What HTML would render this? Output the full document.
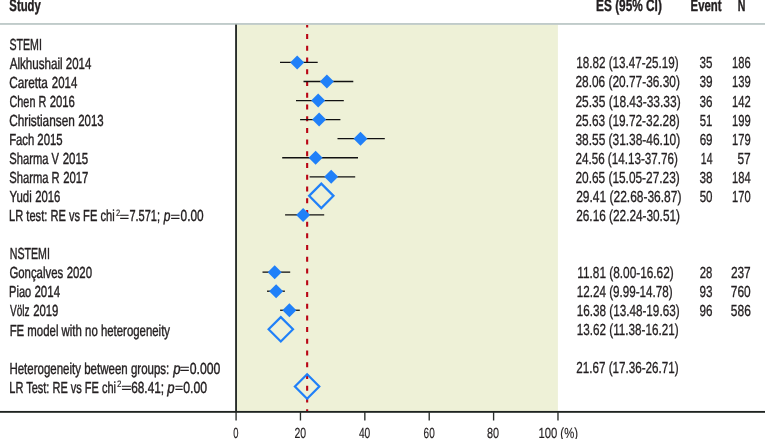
<!DOCTYPE html>
<html><head><meta charset="utf-8"><title>Forest plot</title>
<style>
html,body{margin:0;padding:0;background:#fff}
svg{display:block}
text{font-family:"Liberation Sans",sans-serif;font-size:16px;fill:#231f20;stroke:#231f20;stroke-width:0.42px;text-rendering:geometricPrecision}
.b{font-weight:bold;font-size:16.6px;stroke-width:0.4px}.i{font-style:italic}.s{font-size:9.4px;stroke-width:0.15px}.e{font-size:12.5px;stroke-width:0.28px}.t{font-size:14.6px;stroke-width:0.18px}.n{font-size:16px;stroke-width:0.32px}

</style></head>
<body>
<svg width="765" height="439" viewBox="0 0 765 439">
<rect x="237" y="24" width="320.9" height="387.5" fill="#eef1d7"/>
<rect x="0" y="23.0" width="765" height="1.9" fill="#c0cbca"/>
<line x1="307.15" y1="24.9" x2="307.15" y2="411" stroke="#b90514" stroke-width="2.1" stroke-dasharray="5 6.72" stroke-dashoffset="2.5"/>
<line x1="280.0" y1="62.42" x2="317.7" y2="62.42" stroke="#111" stroke-width="1.3"/>
<path d="M290.2 62.42L297.2 55.42L304.2 62.42L297.2 69.42Z" fill="#2080f8"/>
<line x1="303.5" y1="81.48" x2="353.3" y2="81.48" stroke="#111" stroke-width="1.3"/>
<path d="M319.9 81.48L326.9 74.48L333.9 81.48L326.9 88.48Z" fill="#2080f8"/>
<line x1="296.0" y1="100.55" x2="343.8" y2="100.55" stroke="#111" stroke-width="1.3"/>
<path d="M311.2 100.55L318.2 93.55L325.2 100.55L318.2 107.55Z" fill="#2080f8"/>
<line x1="300.1" y1="119.61" x2="340.4" y2="119.61" stroke="#111" stroke-width="1.3"/>
<path d="M312.1 119.61L319.1 112.61L326.1 119.61L319.1 126.61Z" fill="#2080f8"/>
<line x1="337.5" y1="138.68" x2="384.8" y2="138.68" stroke="#111" stroke-width="1.3"/>
<path d="M353.5 138.68L360.5 131.68L367.5 138.68L360.5 145.68Z" fill="#2080f8"/>
<line x1="282.2" y1="157.74" x2="358.0" y2="157.74" stroke="#111" stroke-width="1.3"/>
<path d="M308.6 157.74L315.6 150.74L322.6 157.74L315.6 164.74Z" fill="#2080f8"/>
<line x1="309.6" y1="176.81" x2="355.2" y2="176.81" stroke="#111" stroke-width="1.3"/>
<path d="M324.2 176.81L331.2 169.81L338.2 176.81L331.2 183.81Z" fill="#2080f8"/>
<line x1="285.1" y1="214.94" x2="324.2" y2="214.94" stroke="#111" stroke-width="1.3"/>
<path d="M296.1 214.94L303.1 207.94L310.1 214.94L303.1 221.94Z" fill="#2080f8"/>
<line x1="262.5" y1="272.13" x2="290.2" y2="272.13" stroke="#111" stroke-width="1.3"/>
<path d="M267.7 272.13L274.7 265.13L281.7 272.13L274.7 279.13Z" fill="#2080f8"/>
<line x1="267.0" y1="291.20" x2="284.9" y2="291.20" stroke="#111" stroke-width="1.3"/>
<path d="M269.1 291.20L276.1 284.20L283.1 291.20L276.1 298.20Z" fill="#2080f8"/>
<line x1="280.1" y1="310.26" x2="299.8" y2="310.26" stroke="#111" stroke-width="1.3"/>
<path d="M282.4 310.26L289.4 303.26L296.4 310.26L289.4 317.26Z" fill="#2080f8"/>
<path d="M309.1 195.87L321.3 183.67L333.5 195.87L321.3 208.07Z" fill="none" stroke="#2080f8" stroke-width="2.2"/>
<path d="M268.6 329.33L280.8 317.13L293.0 329.33L280.8 341.53Z" fill="none" stroke="#2080f8" stroke-width="2.2"/>
<path d="M294.9 386.52L307.1 374.32L319.3 386.52L307.1 398.72Z" fill="none" stroke="#2080f8" stroke-width="2.2"/>
<rect x="235.15" y="24.6" width="1.8" height="388" fill="#1e2320"/>
<rect x="0" y="410.95" width="765" height="1.85" fill="#1e2320"/>
<rect x="235.40" y="412" width="1.35" height="8.5" fill="#2a2e2c"/>
<rect x="299.78" y="412" width="1.35" height="8.5" fill="#2a2e2c"/>
<rect x="364.16" y="412" width="1.35" height="8.5" fill="#2a2e2c"/>
<rect x="428.54" y="412" width="1.35" height="8.5" fill="#2a2e2c"/>
<rect x="492.92" y="412" width="1.35" height="8.5" fill="#2a2e2c"/>
<rect x="557.30" y="412" width="1.35" height="8.5" fill="#2a2e2c"/>
<text class="b" x="9.35" y="11.10" textLength="31.46" lengthAdjust="spacingAndGlyphs">Study</text>
<text class="b" x="596.11" y="11.10" textLength="65.71" lengthAdjust="spacingAndGlyphs">ES (95% CI)</text>
<text class="b" x="690.55" y="11.10" textLength="30.94" lengthAdjust="spacingAndGlyphs">Event</text>
<text class="b" x="737.73" y="11.10" textLength="7.64" lengthAdjust="spacingAndGlyphs">N</text>
<text x="9.44" y="49.65" textLength="32.45" lengthAdjust="spacingAndGlyphs">STEMI</text>
<text x="9.64" y="68.71" textLength="53.07" lengthAdjust="spacingAndGlyphs">Alkhushail </text>
<text x="65.87" y="68.71" textLength="25.41" lengthAdjust="spacingAndGlyphs">2014</text>
<text x="9.13" y="87.77" textLength="38.73" lengthAdjust="spacingAndGlyphs">Caretta </text>
<text x="51.87" y="87.77" textLength="25.41" lengthAdjust="spacingAndGlyphs">2014</text>
<text x="9.54" y="106.83" textLength="36.68" lengthAdjust="spacingAndGlyphs">Chen R </text>
<text x="49.71" y="106.83" textLength="25.15" lengthAdjust="spacingAndGlyphs">2016</text>
<text x="9.14" y="125.89" textLength="65.68" lengthAdjust="spacingAndGlyphs">Christiansen </text>
<text x="78.22" y="125.89" textLength="25.40" lengthAdjust="spacingAndGlyphs">2013</text>
<text x="9.13" y="144.95" textLength="25.14" lengthAdjust="spacingAndGlyphs">Fach </text>
<text x="37.33" y="144.95" textLength="25.24" lengthAdjust="spacingAndGlyphs">2015</text>
<text x="9.31" y="164.01" textLength="49.64" lengthAdjust="spacingAndGlyphs">Sharma V </text>
<text x="62.66" y="164.01" textLength="25.51" lengthAdjust="spacingAndGlyphs">2015</text>
<text x="9.30" y="183.07" textLength="50.36" lengthAdjust="spacingAndGlyphs">Sharma R </text>
<text x="63.15" y="183.07" textLength="25.23" lengthAdjust="spacingAndGlyphs">2017</text>
<text x="9.49" y="202.13" textLength="22.21" lengthAdjust="spacingAndGlyphs">Yudi </text>
<text x="35.15" y="202.13" textLength="25.13" lengthAdjust="spacingAndGlyphs">2016</text>
<text x="9.72" y="259.31" textLength="40.15" lengthAdjust="spacingAndGlyphs">NSTEMI</text>
<text x="9.40" y="278.37" textLength="53.81" lengthAdjust="spacingAndGlyphs">Gonçalves </text>
<text x="66.67" y="278.37" textLength="25.40" lengthAdjust="spacingAndGlyphs">2020</text>
<text x="9.12" y="297.43" textLength="22.04" lengthAdjust="spacingAndGlyphs">Piao </text>
<text x="34.48" y="297.43" textLength="25.56" lengthAdjust="spacingAndGlyphs">2014</text>
<text x="9.97" y="316.49" textLength="19.62" lengthAdjust="spacingAndGlyphs">Völz </text>
<text x="33.15" y="316.49" textLength="25.28" lengthAdjust="spacingAndGlyphs">2019</text>
<text x="9.64" y="335.55" textLength="160.37" lengthAdjust="spacingAndGlyphs">FE model with no heterogeneity</text>
<text x="9.00" y="221.19" textLength="105.63" lengthAdjust="spacingAndGlyphs">LR test: RE vs FE chi</text>
<text class="s" x="115.91" y="215.59" textLength="4.18" lengthAdjust="spacingAndGlyphs">2</text>
<text class="e" x="119.52" y="220.94" textLength="9.58" lengthAdjust="spacingAndGlyphs">=</text>
<text x="129.39" y="221.19" textLength="30.60" lengthAdjust="spacingAndGlyphs">7.571; </text>
<text class="i" x="163.80" y="221.19" textLength="6.70" lengthAdjust="spacingAndGlyphs">p</text>
<text class="e" x="170.55" y="220.94" textLength="9.54" lengthAdjust="spacingAndGlyphs">=</text>
<text x="180.61" y="221.19" textLength="23.03" lengthAdjust="spacingAndGlyphs">0.00</text>
<text x="9.40" y="373.67" textLength="159.89" lengthAdjust="spacingAndGlyphs">Heterogeneity between groups: </text>
<text class="i" x="173.34" y="373.67" textLength="7.30" lengthAdjust="spacingAndGlyphs">p</text>
<text class="e" x="179.74" y="373.42" textLength="9.72" lengthAdjust="spacingAndGlyphs">=</text>
<text x="189.78" y="373.67" textLength="30.64" lengthAdjust="spacingAndGlyphs">0.000</text>
<text x="9.33" y="392.73" textLength="106.60" lengthAdjust="spacingAndGlyphs">LR Test: RE vs FE chi</text>
<text class="s" x="116.92" y="387.13" textLength="4.46" lengthAdjust="spacingAndGlyphs">2</text>
<text class="e" x="121.30" y="392.48" textLength="10.48" lengthAdjust="spacingAndGlyphs">=</text>
<text x="131.23" y="392.73" textLength="32.83" lengthAdjust="spacingAndGlyphs">68.41; </text>
<text class="i" x="167.34" y="392.73" textLength="7.34" lengthAdjust="spacingAndGlyphs">p</text>
<text class="e" x="174.90" y="392.48" textLength="8.10" lengthAdjust="spacingAndGlyphs">=</text>
<text x="183.28" y="392.73" textLength="23.83" lengthAdjust="spacingAndGlyphs">0.00</text>
<text class="n" x="576.36" y="68.41" textLength="102.25" lengthAdjust="spacingAndGlyphs">18.82 (13.47-25.19)</text>
<text class="n" x="575.46" y="87.47" textLength="104.38" lengthAdjust="spacingAndGlyphs">28.06 (20.77-36.30)</text>
<text class="n" x="575.45" y="106.53" textLength="105.19" lengthAdjust="spacingAndGlyphs">25.35 (18.43-33.33)</text>
<text class="n" x="575.47" y="125.59" textLength="104.22" lengthAdjust="spacingAndGlyphs">25.63 (19.72-32.28)</text>
<text class="n" x="575.45" y="144.65" textLength="104.66" lengthAdjust="spacingAndGlyphs">38.55 (31.38-46.10)</text>
<text class="n" x="575.51" y="163.71" textLength="102.27" lengthAdjust="spacingAndGlyphs">24.56 (14.13-37.76)</text>
<text class="n" x="575.47" y="182.77" textLength="104.22" lengthAdjust="spacingAndGlyphs">20.65 (15.05-27.23)</text>
<text class="n" x="576.21" y="201.83" textLength="105.18" lengthAdjust="spacingAndGlyphs">29.41 (22.68-36.87)</text>
<text class="n" x="576.24" y="220.89" textLength="103.72" lengthAdjust="spacingAndGlyphs">26.16 (22.24-30.51)</text>
<text class="n" x="577.29" y="278.07" textLength="96.42" lengthAdjust="spacingAndGlyphs">11.81 (8.00-16.62)</text>
<text class="n" x="576.75" y="297.13" textLength="95.85" lengthAdjust="spacingAndGlyphs">12.24 (9.99-14.78)</text>
<text class="n" x="576.73" y="316.19" textLength="102.83" lengthAdjust="spacingAndGlyphs">16.38 (13.48-19.63)</text>
<text class="n" x="576.74" y="335.25" textLength="101.84" lengthAdjust="spacingAndGlyphs">13.62 (11.38-16.21)</text>
<text class="n" x="576.26" y="373.37" textLength="102.40" lengthAdjust="spacingAndGlyphs">21.67 (17.36-26.71)</text>
<text class="n" x="699.57" y="68.41" textLength="12.89" lengthAdjust="spacingAndGlyphs">35</text>
<text class="n" x="699.57" y="87.47" textLength="13.10" lengthAdjust="spacingAndGlyphs">39</text>
<text class="n" x="699.57" y="106.53" textLength="12.93" lengthAdjust="spacingAndGlyphs">36</text>
<text class="n" x="699.64" y="125.59" textLength="12.67" lengthAdjust="spacingAndGlyphs">51</text>
<text class="n" x="699.63" y="144.65" textLength="12.89" lengthAdjust="spacingAndGlyphs">69</text>
<text class="n" x="700.85" y="163.71" textLength="11.63" lengthAdjust="spacingAndGlyphs">14</text>
<text class="n" x="699.57" y="182.77" textLength="13.09" lengthAdjust="spacingAndGlyphs">38</text>
<text class="n" x="699.66" y="201.83" textLength="12.84" lengthAdjust="spacingAndGlyphs">50</text>
<text class="n" x="699.70" y="278.07" textLength="12.59" lengthAdjust="spacingAndGlyphs">28</text>
<text class="n" x="699.56" y="297.13" textLength="13.00" lengthAdjust="spacingAndGlyphs">93</text>
<text class="n" x="699.56" y="316.19" textLength="12.94" lengthAdjust="spacingAndGlyphs">96</text>
<text class="n" x="732.08" y="68.41" textLength="18.57" lengthAdjust="spacingAndGlyphs">186</text>
<text class="n" x="732.06" y="87.47" textLength="18.68" lengthAdjust="spacingAndGlyphs">139</text>
<text class="n" x="732.06" y="106.53" textLength="18.69" lengthAdjust="spacingAndGlyphs">142</text>
<text class="n" x="732.06" y="125.59" textLength="18.68" lengthAdjust="spacingAndGlyphs">199</text>
<text class="n" x="732.06" y="144.65" textLength="18.68" lengthAdjust="spacingAndGlyphs">179</text>
<text class="n" x="737.43" y="163.71" textLength="13.32" lengthAdjust="spacingAndGlyphs">57</text>
<text class="n" x="732.07" y="182.77" textLength="18.56" lengthAdjust="spacingAndGlyphs">184</text>
<text class="n" x="732.07" y="201.83" textLength="18.55" lengthAdjust="spacingAndGlyphs">170</text>
<text class="n" x="730.88" y="278.07" textLength="19.79" lengthAdjust="spacingAndGlyphs">237</text>
<text class="n" x="730.84" y="297.13" textLength="19.88" lengthAdjust="spacingAndGlyphs">760</text>
<text class="n" x="730.84" y="316.19" textLength="19.97" lengthAdjust="spacingAndGlyphs">586</text>
<text class="t" x="233.37" y="437.90" textLength="5.23" lengthAdjust="spacingAndGlyphs">0</text>
<text class="t" x="294.50" y="437.90" textLength="11.69" lengthAdjust="spacingAndGlyphs">20</text>
<text class="t" x="358.93" y="437.90" textLength="11.38" lengthAdjust="spacingAndGlyphs">40</text>
<text class="t" x="423.62" y="437.90" textLength="11.11" lengthAdjust="spacingAndGlyphs">60</text>
<text class="t" x="487.08" y="437.90" textLength="12.06" lengthAdjust="spacingAndGlyphs">80</text>
<text class="t" x="538.38" y="437.90" textLength="39.57" lengthAdjust="spacingAndGlyphs">100 (%)</text>
</svg>
</body></html>
